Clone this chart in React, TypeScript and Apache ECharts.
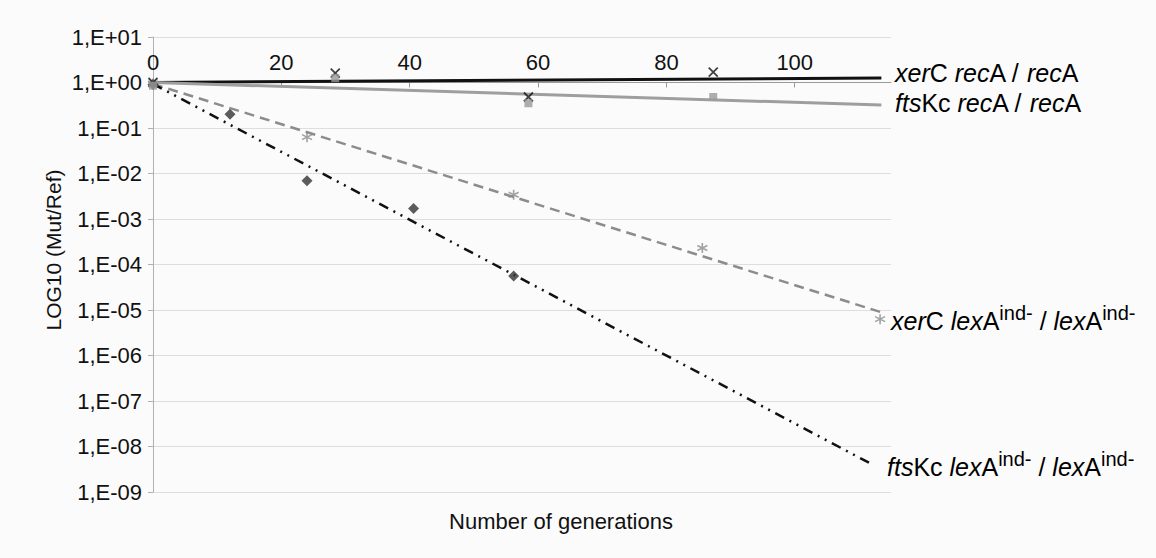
import React, { useEffect, useRef } from "react";
import * as echarts from "echarts";

// Measured points (x = generations, y = Mut/Ref ratio)
const xerCRecAX = [0, 28.4, 58.5, 87.3];
const xerCRecAY = [1.0, 1.6, 0.48, 1.7];
const ftsKcRecAX = [0, 28.4, 58.5, 87.3];
const ftsKcRecAY = [0.85, 1.25, 0.35, 0.48];
const xerCLexAX = [0, 24, 56.2, 85.6, 113.3];
const xerCLexAY = [0.95, 0.063, 0.0034, 0.00023, 0.0000063];
const ftsKcLexAX = [0, 12, 24, 40.6, 56.2];
const ftsKcLexAY = [0.9, 0.2, 0.0069, 0.0017, 0.000056];

// Trend lines
const trendXerCRecAX = [0, 113.5];
const trendXerCRecAY = [1.0, 1.26];
const trendFtsKcRecAX = [0, 113.5];
const trendFtsKcRecAY = [1.0, 0.32];
const trendXerCLexAX = [0, 113.3];
const trendXerCLexAY = [0.93, 0.0000091];
const trendFtsKcLexAX = [0, 111.7];
const trendFtsKcLexAY = [0.93, 0.0000000043];

const xTicks = [0, 20, 40, 60, 80, 100];

const FONT = "'Liberation Sans', Arial, sans-serif";

const toPairs = (xs: number[], ys: number[]) => xs.map((x, i) => [x, Math.log10(ys[i])]);

const fmtExp = (v: number) => {
  const e = Math.round(v);
  const s = e >= 0 ? "+" : "-";
  return "1,E" + s + String(Math.abs(e)).padStart(2, "0");
};

const CROSS = "path://M0,0L10,10M10,0L0,10";
const STAR = "path://M5,0L5,10M0.7,2.5L9.3,7.5M0.7,7.5L9.3,2.5";

export default function App() {
  const ref = useRef<HTMLDivElement>(null);
  useEffect(() => {
    if (!ref.current) return;
    const chart = echarts.init(ref.current, undefined, { renderer: "svg" });
    const rich = {
      i: { fontStyle: "italic", fontSize: 25, fontFamily: FONT, color: "#111", lineHeight: 30, verticalAlign: "bottom" },
      n: { fontSize: 25, fontFamily: FONT, color: "#111", lineHeight: 30, verticalAlign: "bottom" },
      s: { fontSize: 20, fontFamily: FONT, color: "#111", lineHeight: 24, verticalAlign: "top" },
    };
    chart.setOption({
      animation: false,
      backgroundColor: "#fbfbfb",
      grid: { left: 153, top: 37, width: 738, height: 455, containLabel: false },
      xAxis: {
        type: "value",
        min: 0,
        max: 115,
        interval: 20,
        position: "top",
        offset: -45.5,
        axisLine: { show: true, lineStyle: { color: "#9a9a9a", width: 1 } },
        axisTick: { show: true, inside: true, length: 5, lineStyle: { color: "#9a9a9a" } },
        axisLabel: {
          fontSize: 22,
          fontFamily: FONT,
          color: "#111",
          margin: 9,
          showMaxLabel: false,
          formatter: (v: number) => (xTicks.includes(v) ? String(v) : ""),
        },
        splitLine: { show: false },
      },
      yAxis: {
        type: "value",
        min: -9,
        max: 1,
        interval: 1,
        axisLine: { show: true, lineStyle: { color: "#b0b0b0", width: 1 } },
        axisTick: { show: true, length: 5, lineStyle: { color: "#b0b0b0" } },
        axisLabel: { fontSize: 22, fontFamily: FONT, color: "#111", margin: 11, formatter: fmtExp },
        splitLine: { show: true, lineStyle: { color: "#dedede", width: 1 } },
      },
      graphic: [
        {
          type: "text",
          x: 53,
          y: 250,
          rotation: Math.PI / 2,
          style: { text: "LOG10 (Mut/Ref)", fontSize: 21, fontFamily: FONT, fill: "#111", align: "center", verticalAlign: "middle" },
        },
        {
          type: "text",
          x: 561,
          y: 521,
          style: { text: "Number of generations", fontSize: 22, fontFamily: FONT, fill: "#111", align: "center", verticalAlign: "middle" },
        },
        {
          type: "text",
          x: 895,
          y: 70,
          style: { text: "{i|xer}{n|C }{i|rec}{n|A / }{i|rec}{n|A}", rich, align: "left", verticalAlign: "middle" },
        },
        {
          type: "text",
          x: 895,
          y: 100,
          style: { text: "{i|fts}{n|Kc }{i|rec}{n|A / }{i|rec}{n|A}", rich, align: "left", verticalAlign: "middle" },
        },
        {
          type: "text",
          x: 891,
          y: 318,
          style: { text: "{i|xer}{n|C }{i|lex}{n|A}{s|ind-}{n| / }{i|lex}{n|A}{s|ind-}", rich, align: "left", verticalAlign: "middle" },
        },
        {
          type: "text",
          x: 887,
          y: 464,
          style: { text: "{i|fts}{n|Kc }{i|lex}{n|A}{s|ind-}{n| / }{i|lex}{n|A}{s|ind-}", rich, align: "left", verticalAlign: "middle" },
        },
      ],
      series: [
        {
          type: "line",
          data: toPairs(trendXerCRecAX, trendXerCRecAY),
          showSymbol: false,
          lineStyle: { color: "#111", width: 3 },
          z: 3,
        },
        {
          type: "line",
          data: toPairs(trendFtsKcRecAX, trendFtsKcRecAY),
          showSymbol: false,
          lineStyle: { color: "#9e9e9e", width: 3 },
          z: 3,
        },
        {
          type: "line",
          data: toPairs(trendXerCLexAX, trendXerCLexAY),
          showSymbol: false,
          lineStyle: { color: "#8c8c8c", width: 2.5, type: [10, 6] },
          z: 3,
        },
        {
          type: "line",
          data: toPairs(trendFtsKcLexAX, trendFtsKcLexAY),
          showSymbol: false,
          lineStyle: { color: "#111", width: 2.5, type: [10, 6, 2, 6, 2, 6] },
          z: 3,
        },
        {
          type: "scatter",
          data: toPairs(xerCRecAX, xerCRecAY),
          symbol: CROSS,
          symbolSize: 9,
          itemStyle: { color: "none", borderColor: "#111", borderWidth: 1.8 },
          z: 4,
        },
        {
          type: "scatter",
          data: toPairs(ftsKcRecAX, ftsKcRecAY),
          symbol: "rect",
          symbolSize: 8,
          itemStyle: { color: "#9a9a9a" },
          z: 5,
        },
        {
          type: "scatter",
          data: toPairs(xerCLexAX, xerCLexAY),
          symbol: STAR,
          symbolSize: 10,
          itemStyle: { color: "none", borderColor: "#8c8c8c", borderWidth: 1.6 },
          z: 4,
        },
        {
          type: "scatter",
          data: toPairs(ftsKcLexAX, ftsKcLexAY),
          symbol: "diamond",
          symbolSize: 11,
          itemStyle: { color: "#333" },
          z: 4,
        },
      ],
    });
    return () => chart.dispose();
  }, []);
  return <div ref={ref} style={{ position: "absolute", left: 0, top: 0, width: 1156, height: 558 }} />;
}
